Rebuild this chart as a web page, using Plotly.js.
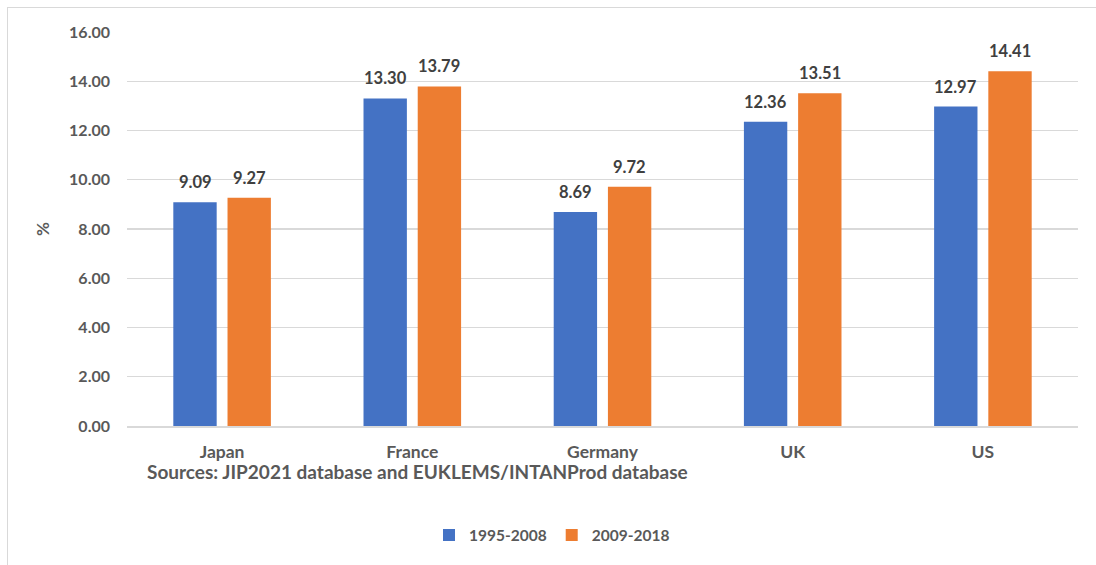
<!DOCTYPE html>
<html>
<head>
<meta charset="utf-8">
<script src="https://cdn.plot.ly/plotly-3.0.1.min.js"></script>
<style>
html,body{margin:0;padding:0;background:#fff;}
#frame{position:absolute;left:7px;top:7px;width:1200px;height:700px;border:1.5px solid #d9d9d9;box-sizing:border-box;}
#chart{position:absolute;left:0;top:0;width:1096px;height:565px;}
</style>
</head>
<body>
<div id="frame"></div>
<div id="chart"></div>
<script>
const countries = ["Japan", "France", "Germany", "UK", "US"];
const seriesNames = ["1995-2008", "2009-2018"];
const values1995_2008 = [9.09, 13.30, 8.69, 12.36, 12.97];
const values2009_2018 = [9.27, 13.79, 9.72, 13.51, 14.41];
const seriesColors = ["#4472c4", "#ed7d31"];
const yTicks = [0, 2, 4, 6, 8, 10, 12, 14, 16];
const sourceText = "Sources: JIP2021 database and EUKLEMS/INTANProd database";

const FONT = "Lato, 'Open Sans', sans-serif";
const allSeries = [values1995_2008, values2009_2018];

const traces = allSeries.map((vals, i) => ({
  type: "bar",
  name: seriesNames[i],
  x: countries,
  y: vals,
  marker: {color: seriesColors[i]},
  hoverinfo: "skip"
}));

const annotations = [];
allSeries.forEach((vals, i) => {
  vals.forEach((v, j) => {
    annotations.push({
      x: countries[j], y: v, xref: "x", yref: "y",
      text: v.toFixed(2), showarrow: false,
      xshift: i === 0 ? -27 : 27, yshift: 20,
      font: {family: FONT, size: 16.5, color: "#404040", weight: 700}
    });
  });
});
annotations.push({
  xref: "paper", yref: "paper",
  x: (145 - 127) / 951, y: (428 - 474) / 396,
  xanchor: "left", yanchor: "middle",
  text: sourceText, showarrow: false,
  font: {family: FONT, size: 19, color: "#595959", weight: 700}
});

const layout = {
  width: 1096, height: 565,
  margin: {l: 127, r: 18, t: 32, b: 137},
  paper_bgcolor: "rgba(0,0,0,0)",
  plot_bgcolor: "rgba(0,0,0,0)",
  barmode: "group",
  bargap: 0.43,
  bargroupgap: 0.2,
  showlegend: true,
  legend: {
    orientation: "h", x: (552 - 127) / 951, xanchor: "center",
    y: (428 - 538) / 396, yanchor: "middle",
    font: {family: FONT, size: 15.5, color: "#595959", weight: 700},
    itemwidth: 30, traceorder: "normal"
  },
  xaxis: {
    type: "category",
    showgrid: false,
    showline: true, linecolor: "#d9d9d9", linewidth: 1.5,
    ticks: "", ticklabelstandoff: 9,
    tickfont: {family: FONT, size: 17.5, color: "#595959", weight: 700}
  },
  yaxis: {
    range: [0, 16],
    tickvals: yTicks,
    ticktext: yTicks.map(v => v.toFixed(2)),
    showgrid: true, gridcolor: "#d9d9d9", gridwidth: 1.2,
    zeroline: false, showline: false,
    ticks: "", ticklabelstandoff: 16,
    tickfont: {family: FONT, size: 16, color: "#595959", weight: 700},
    title: {text: "%", standoff: 15, font: {family: FONT, size: 17, color: "#595959", weight: 700}}
  },
  annotations: annotations
};

Plotly.newPlot("chart", traces, layout, {displayModeBar: false, staticPlot: true});
</script>
</body>
</html>
